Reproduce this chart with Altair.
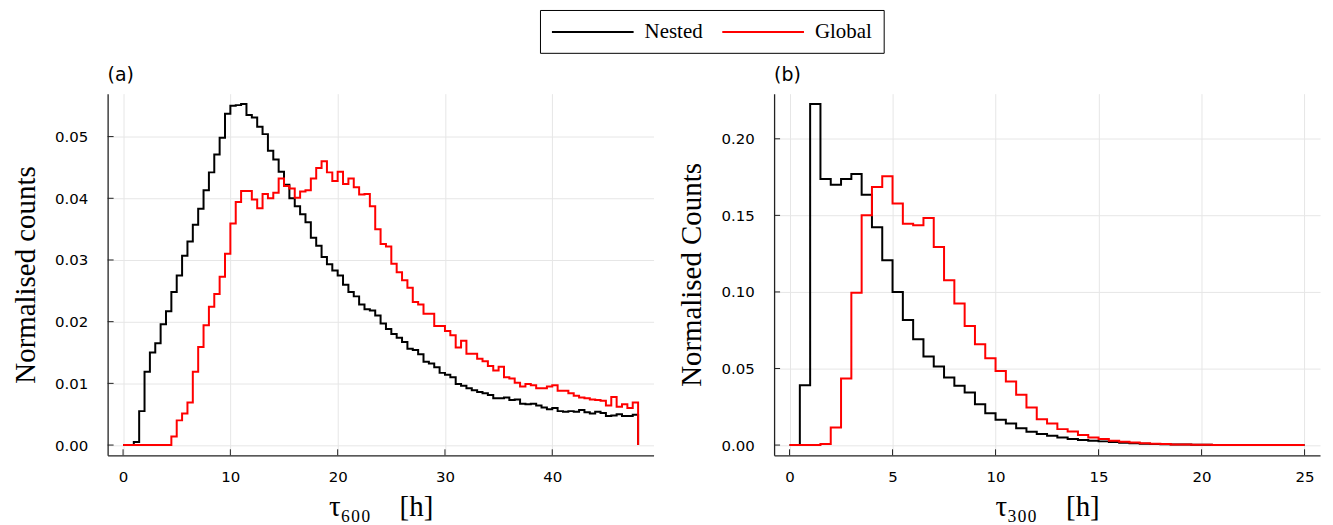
import altair as alt
import pandas as pd

SERIES = ["Nested", "Global"]
COLORS = ["#000000", "#ff0000"]

BIN_600 = 0.5
BIN_300 = 0.5

nested_600 = [
    0.0, 0.0, 0.0005, 0.0055, 0.0119, 0.0150, 0.0165, 0.0196, 0.0217, 0.0248,
    0.0275, 0.0307, 0.0330, 0.0357, 0.0383, 0.0413, 0.0442, 0.0471, 0.0498, 0.0537,
    0.0550, 0.0551, 0.0553, 0.0535, 0.0531, 0.0516, 0.0504, 0.0477, 0.0463, 0.0443,
    0.0422, 0.0400, 0.0387, 0.0374, 0.0361, 0.0336, 0.0323, 0.0305, 0.0293, 0.0283,
    0.0275, 0.0260, 0.0248, 0.0241, 0.0228, 0.0220, 0.0218, 0.0210, 0.0197, 0.0188,
    0.0180, 0.0174, 0.0167, 0.0156, 0.0154, 0.0147, 0.0135, 0.0132, 0.0126, 0.0117,
    0.0114, 0.0110, 0.0099, 0.0096, 0.0092, 0.0089, 0.0086, 0.0084, 0.0081, 0.0076,
    0.0076, 0.0077, 0.0073, 0.0074, 0.0067, 0.0066, 0.0067, 0.0064, 0.0061, 0.0058,
    0.0060, 0.0055, 0.0054, 0.0055, 0.0054, 0.0057, 0.0053, 0.0051, 0.0054, 0.0052,
    0.0047, 0.0048, 0.0050, 0.0047, 0.0047, 0.0049,
]
global_600 = [
    0.0, 0.0, 0.0, 0.0, 0.0, 0.0, 0.0, 0.0, 0.0, 0.0014,
    0.0040, 0.0051, 0.0069, 0.0119, 0.0159, 0.0194, 0.0224, 0.0245, 0.0273, 0.0310,
    0.0359, 0.0394, 0.0412, 0.0412, 0.0398, 0.0384, 0.0407, 0.0400, 0.0409, 0.0432,
    0.0420, 0.0416, 0.0401, 0.0411, 0.0413, 0.0432, 0.0449, 0.0460, 0.0442, 0.0428,
    0.0443, 0.0423, 0.0432, 0.0418, 0.0406, 0.0407, 0.0387, 0.0350, 0.0326, 0.0322,
    0.0294, 0.0280, 0.0267, 0.0255, 0.0232, 0.0228, 0.0213, 0.0213, 0.0193, 0.0193,
    0.0185, 0.0178, 0.0158, 0.0169, 0.0148, 0.0148, 0.0140, 0.0136, 0.0128, 0.0121,
    0.0127, 0.0110, 0.0108, 0.0101, 0.0095, 0.0099, 0.0097, 0.0092, 0.0092, 0.0095,
    0.0097, 0.0088, 0.0088, 0.0084, 0.0080, 0.0077, 0.0076, 0.0074, 0.0073, 0.0072,
    0.0064, 0.0078, 0.0062, 0.0066, 0.0060, 0.0069,
]
nested_300 = [
    0.0, 0.0391, 0.2228, 0.1737, 0.1700, 0.1737, 0.1770, 0.1635, 0.1422, 0.1207,
    0.0999, 0.0817, 0.0691, 0.0578, 0.0513, 0.0441, 0.0387, 0.0343, 0.0267, 0.0208,
    0.0165, 0.0141, 0.0109, 0.0087, 0.0072, 0.0061, 0.0050, 0.0039, 0.0033, 0.0028,
    0.0024, 0.0020, 0.0015, 0.0011, 0.0009, 0.0007, 0.0005, 0.0004, 0.0003, 0.0002,
    0.0002, 0.0001, 0.0001, 0.0001, 0.0001, 0.0001, 0.0, 0.0, 0.0, 0.0,
]
global_300 = [
    0.0, 0.0, 0.0, 0.0007, 0.0115, 0.0434, 0.0995, 0.1501, 0.1685, 0.1755,
    0.1577, 0.1446, 0.1435, 0.1483, 0.1294, 0.1077, 0.0925, 0.0777, 0.0658, 0.0567,
    0.0484, 0.0415, 0.0328, 0.0245, 0.0169, 0.0141, 0.0104, 0.0089, 0.0065, 0.0050,
    0.0039, 0.0028, 0.0022, 0.0017, 0.0011, 0.0009, 0.0007, 0.0004, 0.0003, 0.0002,
    0.0002, 0.0001, 0.0001, 0.0001, 0.0001, 0.0, 0.0, 0.0, 0.0, 0.0,
]

xticks_600 = [0, 10, 20, 30, 40]
yticks_600 = [0.0, 0.01, 0.02, 0.03, 0.04, 0.05]
xticks_300 = [0, 5, 10, 15, 20, 25]
yticks_300 = [0.0, 0.05, 0.10, 0.15, 0.20]

W, H = 548, 363


def steps(values, width, series):
    rows = [{"x": i * width, "y": v, "series": series} for i, v in enumerate(values)]
    rows.append({"x": len(values) * width, "y": 0.0, "series": series})
    return rows


def padded(lo, hi):
    d = (hi - lo) * 0.03
    return [lo - d, hi + d]


legend = alt.Legend(
    title=None, orient="none", legendX=434, legendY=-84, direction="horizontal",
    symbolType="M-1,0H7.2", symbolSize=400, symbolStrokeWidth=2,
    labelOffset=72, columnPadding=15, labelFont="Liberation Serif",
    labelFontSize=21, labelColor="black", padding=11, strokeColor="black",
)


def panel(nested, glob, width, label, ytitle, xtitle, xticks, yticks):
    df = pd.DataFrame(steps(nested, width, "Nested") + steps(glob, width, "Global"))
    xmax = len(nested) * width
    ymax = max(max(nested), max(glob))
    xs = alt.Scale(domain=padded(0, xmax), nice=False, zero=False)
    ys = alt.Scale(domain=padded(0, ymax), nice=False, zero=False)
    color = alt.Color("series:N", scale=alt.Scale(domain=SERIES, range=COLORS), legend=legend)
    xenc = alt.X("x:Q", scale=xs, title=xtitle, axis=alt.Axis(values=xticks, format="d"))
    yenc = alt.Y("y:Q", scale=ys, title=ytitle, axis=alt.Axis(values=yticks, format=".2f"))
    base = alt.Chart(df).mark_line(interpolate="step-after", strokeWidth=2)
    l1 = base.transform_filter(alt.datum.series == "Nested").encode(x=xenc, y=yenc, color=color)
    l2 = base.transform_filter(alt.datum.series == "Global").encode(x=xenc, y=yenc, color=color)
    xt = alt.Chart(pd.DataFrame({"x": xticks})).mark_rule(color="#222", strokeWidth=1).encode(
        x=alt.X("x:Q", title=xtitle), y=alt.value(H), y2=alt.value(H - 6))
    yt = alt.Chart(pd.DataFrame({"y": yticks})).mark_rule(color="#222", strokeWidth=1).encode(
        y=alt.Y("y:Q", title=ytitle), x=alt.value(0), x2=alt.value(6))
    return alt.layer(l1, l2, xt, yt).properties(
        width=W, height=H,
        title=alt.Title(label, anchor="start", frame="group", font="DejaVu Sans",
                        fontSize=19, fontWeight="normal", color="black", offset=9),
    )


left = panel(nested_600, global_600, BIN_600, "(a)", "Normalised counts",
             "τ₆₀₀\u2002\u2002[h]", xticks_600, yticks_600)
right = panel(nested_300, global_300, BIN_300, "(b)", "Normalised Counts",
              "τ₃₀₀\u2002\u2002[h]", xticks_300, yticks_300)

chart = alt.hconcat(left, right, spacing=121, bounds="flush").configure_axis(
    labelFont="DejaVu Sans", labelFontSize=15, labelColor="black",
    titleFont="Liberation Serif", titleFontSize=29, titleFontWeight="normal", titleColor="black",
    gridColor="#e6e6e6", gridWidth=1, domainColor="#222222", domainWidth=1.3,
    ticks=False, tickSize=0,
).configure_axisX(labelPadding=14, titlePadding=8).configure_axisY(
    labelPadding=20, titlePadding=14
).configure_view(stroke=None).properties(
    padding={"left": 3, "top": 0, "right": 5, "bottom": 5}
)

chart.save("out.html", embed_options={"renderer": "svg", "actions": False})
